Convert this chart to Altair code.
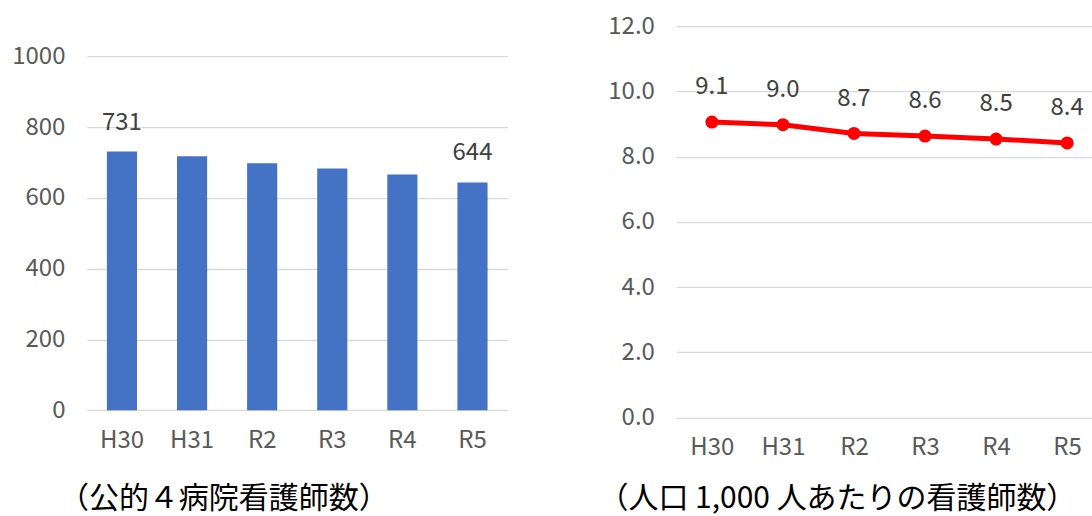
import altair as alt
import pandas as pd

years = ["H30", "H31", "R2", "R3", "R4", "R5"]
nurses = [731, 718, 698, 683, 666, 644]
per1000 = [9.06, 8.98, 8.71, 8.63, 8.54, 8.42]
bar_label_years = ["H30", "R5"]

bar_ticks = [0, 200, 400, 600, 800, 1000]
line_ticks = [0, 2, 4, 6, 8, 10, 12]

left_caption = "（公的４病院看護師数）"
right_caption = "（人口 1,000 人あたりの看護師数）"

FONT = "Noto Sans CJK JP"

df_bar = pd.DataFrame({"year": years, "value": nurses})
df_bar["label"] = [str(v) if y in bar_label_years else "" for y, v in zip(years, nurses)]
df_line = pd.DataFrame({"year": years, "value": per1000})

ax_common = dict(labelFont=FONT, labelFontSize=24, labelColor="#595959",
                 ticks=False, domain=False)

x_bar = alt.X("year:N", sort=years, title=None,
              scale=alt.Scale(paddingInner=0.57, paddingOuter=0.285),
              axis=alt.Axis(labelAngle=0, labelPadding=18, grid=False, **ax_common))
y_bar = alt.Y("value:Q", title=None,
              scale=alt.Scale(domain=[0, 1085.6], nice=False),
              axis=alt.Axis(values=bar_ticks, format="d", labelPadding=22,
                            gridColor="#d9d9d9", gridWidth=1.3, **ax_common))

bars = alt.Chart(df_bar).mark_bar(color="#4472C4").encode(x=x_bar, y=y_bar)
bar_text = alt.Chart(df_bar).mark_text(
    font=FONT, fontSize=24, color="#404040", baseline="middle", dy=-29
).encode(x=x_bar, y=y_bar, text="label:N")

left = alt.layer(bars, bar_text).properties(
    width=421, height=384.3,
    title=alt.TitleParams(left_caption, orient="bottom", anchor="start", frame="group",
                          dx=-28, offset=32, font=FONT, fontSize=30, color="black",
                          fontWeight="normal"),
)

# right panel: categories placed by their index; the panel is cut off at the right edge
year_list_expr = "[" + ",".join("'%s'" % y for y in years) + "]"
x_line = alt.X("idx:Q", title=None,
               scale=alt.Scale(domain=[-0.5, 5.35], nice=False, zero=False),
               axis=alt.Axis(values=list(range(len(years))),
                             labelExpr=year_list_expr + "[datum.value]",
                             labelPadding=18, grid=False, **ax_common))
y_line = alt.Y("value:Q", title=None,
               scale=alt.Scale(domain=[0, 12], nice=False),
               axis=alt.Axis(values=line_ticks, format=".1f", labelPadding=22,
                             gridColor="#d9d9d9", gridWidth=1.3, **ax_common))

base_line = alt.Chart(df_line).transform_calculate(
    idx="indexof(" + year_list_expr + ", datum.year)"
)
line = base_line.mark_line(
    color="#FF0000", strokeWidth=5,
    point=alt.OverlayMarkDef(color="#FF0000", size=170, filled=True, opacity=1),
).encode(x=x_line, y=y_line)
line_text = base_line.mark_text(
    font=FONT, fontSize=24, color="#404040", baseline="middle", dy=-35
).encode(x=x_line, y=y_line, text=alt.Text("value:Q", format=".1f"))

right = alt.layer(line, line_text).properties(
    width=416, height=391.6,
    title=alt.TitleParams(right_caption, orient="bottom", anchor="start", frame="group",
                          dx=-78, offset=25, font=FONT, fontSize=30, color="black",
                          fontWeight="normal"),
)

chart = alt.hconcat(left, right, spacing=169, bounds="flush").configure_view(
    stroke=None
).properties(padding={"left": 11, "top": 14, "right": 0, "bottom": 0})

chart.save("out.html", embed_options={"renderer": "svg", "actions": False})
